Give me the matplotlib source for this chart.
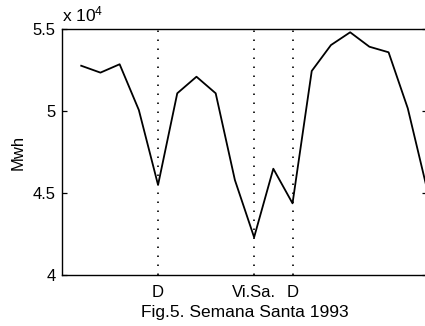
import matplotlib
matplotlib.use("Agg")
import matplotlib.pyplot as plt
from matplotlib.ticker import FuncFormatter

plt.rcParams['font.family'] = ['Liberation Sans', 'DejaVu Sans']
plt.rcParams['mathtext.fontset'] = 'custom'
plt.rcParams['mathtext.rm'] = 'Liberation Sans'
plt.rcParams['mathtext.it'] = 'Liberation Sans'

# daily consumption around Easter week 1993
days = list(range(1, 20))
mwh = [52760, 52340, 52850, 50060, 45490, 51080, 52090, 51080, 45790, 42300,
       46480, 44370, 52440, 54020, 54800, 53920, 53580, 50160, 45250]

# marked days and their labels
mark_days = [5, 10, 12]
mark_labels = ['D', 'Vi.Sa.', 'D']

fig = plt.figure(figsize=(4.25, 3.26), dpi=100)
ax = fig.add_axes([62 / 425, 51 / 326, 365 / 425, 246 / 326])

ax.plot(days, mwh, color='black', lw=1.3)
for d in mark_days:
    ax.axvline(d, color='black', lw=1.2, linestyle=(0, (0.9, 4.5)))

ax.set_xlim(0, 19)
ax.set_ylim(40000, 55000)
ax.set_yticks([40000, 45000, 50000, 55000])
ax.yaxis.set_major_formatter(FuncFormatter(lambda v, p: '%g' % (v / 1e4)))
ax.set_xticks(mark_days)
ax.set_xticklabels(mark_labels)

ax.tick_params(axis='y', direction='in', length=3.5, width=0.9, pad=4.5,
               labelsize=12, right=True)
ax.tick_params(axis='x', length=0, pad=7.5, labelsize=12)
for s in ax.spines.values():
    s.set_linewidth(1.0)

ax.set_ylabel('Mwh', fontsize=12, labelpad=5)
ax.set_xlabel('Fig.5. Semana Santa 1993', fontsize=12.5, labelpad=3.5)
ax.text(0, 1.02, 'x 10$^4$', transform=ax.transAxes, fontsize=12.5,
        ha='left', va='bottom')

fig.savefig('out.png', dpi=100)
